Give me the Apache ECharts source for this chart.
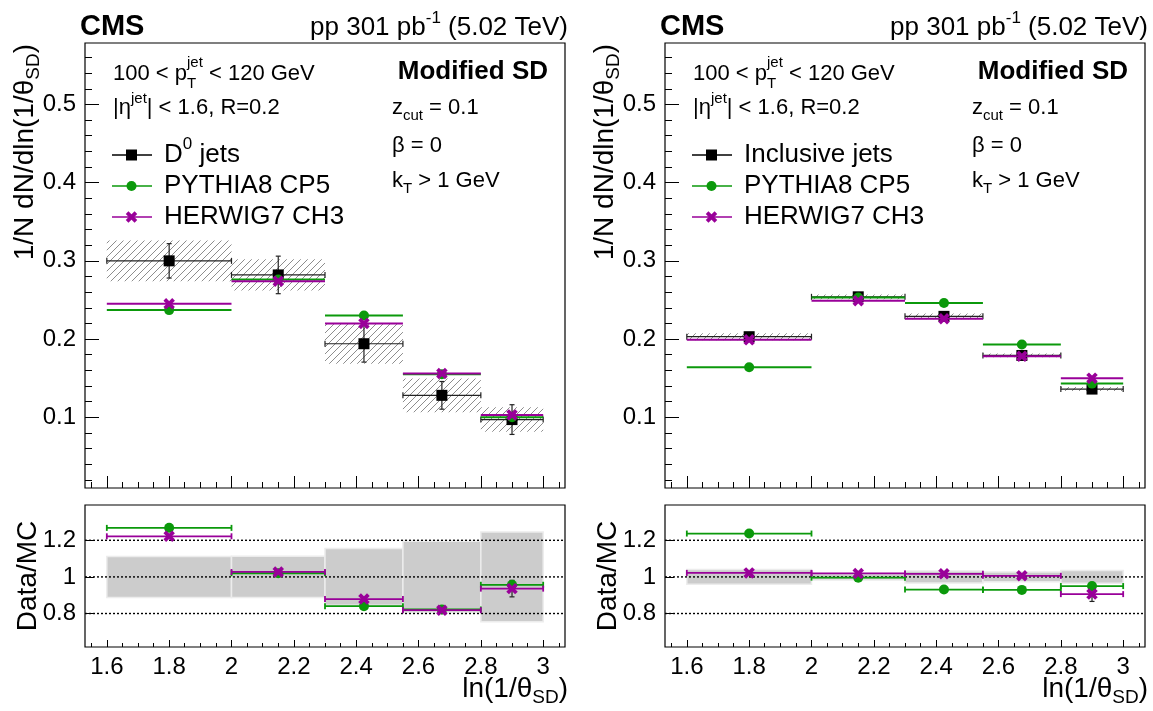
<!DOCTYPE html>
<html><head><meta charset="utf-8">
<script src="https://cdn.jsdelivr.net/npm/echarts@6/dist/echarts.min.js"></script>
<style>html,body{margin:0;padding:0;background:#fff}#c{width:1153px;height:711px}</style>
</head><body><div id="c"></div>
<script>
// ---------------- data ----------------
const binEdges   = [1.6, 2.0, 2.3, 2.55, 2.8, 3.0];
const binCenters = [1.8, 2.15, 2.425, 2.675, 2.9];
const xTicks      = [1.6, 1.8, 2.0, 2.2, 2.4, 2.6, 2.8, 3.0];
const xMinorTicks = [1.55,1.65,1.7,1.75,1.85,1.9,1.95,2.05,2.1,2.15,2.25,2.3,2.35,2.45,2.5,2.55,2.65,2.7,2.75,2.85,2.9,2.95,3.05];
const yTicksMain  = [0.1, 0.2, 0.3, 0.4, 0.5];
const yMinorMain  = [0.02,0.04,0.06,0.08,0.12,0.14,0.16,0.18,0.22,0.24,0.26,0.28,0.32,0.34,0.36,0.38,0.42,0.44,0.46,0.48,0.52,0.54,0.56];
const yTicksRatio = [0.8, 1.0, 1.2];

// Left panel: D0 jets
const d0Data        = [0.300, 0.282, 0.194, 0.128, 0.097];
const d0StatErr     = [0.022, 0.024, 0.0235, 0.0177, 0.019];
const d0SystErr     = [0.026, 0.020, 0.0255, 0.0215, 0.0157];
const d0Pythia      = [0.237, 0.276, 0.230, 0.155, 0.100];
const d0Herwig      = [0.245, 0.274, 0.220, 0.156, 0.103];
const d0RatioPythia = [1.268, 1.020, 0.840, 0.822, 0.957];
const d0RatioHerwig = [1.222, 1.027, 0.879, 0.818, 0.936];
const d0RatioBand   = [0.112, 0.113, 0.155, 0.195, 0.245];
const d0RatioErr    = [0.006, 0.006, 0.008, 0.010, 0.045];

// Right panel: inclusive jets
const inclData        = [0.203, 0.254, 0.229, 0.179, 0.136];
const inclStatErr     = [0.001, 0.001, 0.001, 0.001, 0.0015];
const inclSystErr     = [0.0045, 0.003, 0.0038, 0.0024, 0.0026];
const inclPythia      = [0.164, 0.253, 0.246, 0.193, 0.143];
const inclHerwig      = [0.199, 0.249, 0.226, 0.178, 0.150];
const inclRatioPythia = [1.237, 0.996, 0.931, 0.929, 0.950];
const inclRatioHerwig = [1.022, 1.019, 1.017, 1.006, 0.906];
const inclRatioBand   = [0.040, 0.017, 0.033, 0.027, 0.035];
const inclRatioErr    = [0.003, 0.003, 0.004, 0.005, 0.040];

// ---------------- style ----------------
const FONT = '"Liberation Sans", Arial, Helvetica, sans-serif';
const GREEN = '#0b990b', PURPLE = '#990099';
const xMin = 1.53, xMax = 3.07;
const yMainMin = 0.0095, yMainMax = 0.5786;
const yRatMin = 0.617, yRatMax = 1.393;

const mctx = document.createElement('canvas').getContext('2d');
function tw(t, s, b){ mctx.font = (b ? 'bold ' : '') + s + 'px ' + FONT; return mctx.measureText(t).width; }
function layout(pieces){
  let cx = 0; const items = [];
  for (const p of pieces){
    if (p.sup != null || p.sub != null){
      let w = 0;
      if (p.sup != null){ items.push({t:p.sup, x:cx, dy:p.supDy, s:p.s, b:false}); w = Math.max(w, tw(p.sup, p.s, false)); }
      if (p.sub != null){ items.push({t:p.sub, x:cx, dy:p.subDy, s:p.s, b:false}); w = Math.max(w, tw(p.sub, p.s, false)); }
      cx += w;
    } else {
      items.push({t:p.t, x:cx, dy:p.dy || 0, s:p.s, b:!!p.b}); cx += tw(p.t, p.s, !!p.b);
    }
  }
  return {items, width:cx};
}
function textGroup(x, y, pieces, align, rotation){
  const L = layout(pieces);
  const off = align === 'right' ? -L.width : (align === 'center' ? -L.width/2 : 0);
  return {type:'group', x, y, rotation: rotation || 0, silent:true, z:100,
    children: L.items.map(it => ({type:'text', x: off + it.x, y: it.dy,
      style:{text:it.t, font:(it.b ? 'bold ' : '') + it.s + 'px ' + FONT, fill:'#000',
             align:'left', verticalAlign:'middle', textAlign:'left', textVerticalAlign:'middle'}}))};
}

function makeHatch(){
  const s = 7, c = document.createElement('canvas'); c.width = s; c.height = s;
  const g = c.getContext('2d'); g.strokeStyle = '#707070'; g.lineWidth = 0.8;
  g.beginPath(); g.moveTo(0, s); g.lineTo(s, 0); g.stroke();
  g.beginPath(); g.moveTo(-1, 1); g.lineTo(1, -1); g.stroke();
  g.beginPath(); g.moveTo(s-1, s+1); g.lineTo(s+1, s-1); g.stroke();
  return {image:c, repeat:'repeat'};
}
const hatch = makeHatch();

function markerShape(kind, cx, cy, color){
  if (kind === 'square') return {type:'rect', shape:{x:cx-5.5, y:cy-5.5, width:11, height:11}, style:{fill:'#000'}};
  if (kind === 'circle') return {type:'circle', shape:{cx, cy, r:5}, style:{fill:color}};
  const a = 4.4;
  return {type:'group', children:[
    {type:'line', shape:{x1:cx-a, y1:cy-a, x2:cx+a, y2:cy+a}, style:{stroke:color, lineWidth:3.8}},
    {type:'line', shape:{x1:cx-a, y1:cy+a, x2:cx+a, y2:cy-a}, style:{stroke:color, lineWidth:3.8}}]};
}

// ---------------- render functions ----------------
function rSyst(params, api){
  const lo = api.value(0), hi = api.value(1), y = api.value(2), e = api.value(3);
  const a = api.coord([lo, y + e]), b = api.coord([hi, y - e]);
  return {type:'rect', shape:{x:a[0], y:a[1], width:b[0]-a[0], height:b[1]-a[1]}, style:{fill:hatch}};
}
function rData(params, api){
  const lo = api.value(0), hi = api.value(1), x = api.value(2), y = api.value(3), e = api.value(4);
  const pl = api.coord([lo, y]), ph = api.coord([hi, y]), pc = api.coord([x, y]);
  const pt = api.coord([x, y + e]), pb = api.coord([x, y - e]);
  const st = {stroke:'#222', lineWidth:1.2};
  return {type:'group', children:[
    {type:'line', shape:{x1:pl[0], y1:pl[1], x2:ph[0], y2:ph[1]}, style:st},
    {type:'line', shape:{x1:pl[0], y1:pl[1]-3, x2:pl[0], y2:pl[1]+3}, style:st},
    {type:'line', shape:{x1:ph[0], y1:ph[1]-3, x2:ph[0], y2:ph[1]+3}, style:st},
    {type:'line', shape:{x1:pt[0], y1:pt[1], x2:pb[0], y2:pb[1]}, style:st},
    {type:'line', shape:{x1:pt[0]-2.5, y1:pt[1], x2:pt[0]+2.5, y2:pt[1]}, style:st},
    {type:'line', shape:{x1:pb[0]-2.5, y1:pb[1], x2:pb[0]+2.5, y2:pb[1]}, style:st},
    markerShape('square', pc[0], pc[1])
  ]};
}
function rMC(color, kind){
  return function(params, api){
    const lo = api.value(0), hi = api.value(1), x = api.value(2), y = api.value(3);
    const pl = api.coord([lo, y]), ph = api.coord([hi, y]), pc = api.coord([x, y]);
    return {type:'group', children:[
      {type:'line', shape:{x1:pl[0], y1:pl[1], x2:ph[0], y2:ph[1]}, style:{stroke:color, lineWidth:2}},
      markerShape(kind, pc[0], pc[1], color)
    ]};
  };
}
function rRatioMC(color, kind){
  return function(params, api){
    const lo = api.value(0), hi = api.value(1), x = api.value(2), y = api.value(3);
    const pl = api.coord([lo, y]), ph = api.coord([hi, y]), pc = api.coord([x, y]);
    const st = {stroke:color, lineWidth:1.8};
    return {type:'group', children:[
      {type:'line', shape:{x1:pl[0], y1:pl[1], x2:ph[0], y2:ph[1]}, style:st},
      {type:'line', shape:{x1:pl[0], y1:pl[1]-3, x2:pl[0], y2:pl[1]+3}, style:st},
      {type:'line', shape:{x1:ph[0], y1:ph[1]-3, x2:ph[0], y2:ph[1]+3}, style:st},
      markerShape(kind, pc[0], pc[1], color)
    ]};
  };
}
function rRatioErr(params, api){
  const x = api.value(0), y = api.value(1), e = api.value(2);
  const pt = api.coord([x, y + e]), pb = api.coord([x, y - e]);
  const st = {stroke:'#222', lineWidth:1.2};
  return {type:'group', children:[
    {type:'line', shape:{x1:pt[0], y1:pt[1], x2:pb[0], y2:pb[1]}, style:st},
    {type:'line', shape:{x1:pt[0]-2.5, y1:pt[1], x2:pt[0]+2.5, y2:pt[1]}, style:st},
    {type:'line', shape:{x1:pb[0]-2.5, y1:pb[1], x2:pb[0]+2.5, y2:pb[1]}, style:st}]};
}
function rBand(params, api){
  const lo = api.value(0), hi = api.value(1), e = api.value(2);
  const a = api.coord([lo, 1 + e]), b = api.coord([hi, 1 - e]);
  return {type:'rect', shape:{x:a[0], y:a[1], width:b[0]-a[0], height:b[1]-a[1]},
          style:{fill:'#cccccc', stroke:'#ececec', lineWidth:1.5}};
}
function rRef(params, api){
  const y = api.value(0), cs = params.coordSys;
  const p = api.coord([xMin, y]);
  return {type:'line', shape:{x1:cs.x, y1:p[1], x2:cs.x + cs.width, y2:p[1]},
          style:{stroke:'#000', lineWidth:1.4, lineDash:[2, 2]}};
}

// ---------------- build ----------------
const panels = [
  {x0:85, data:d0Data, stat:d0StatErr, syst:d0SystErr, py:d0Pythia, hw:d0Herwig,
   rpy:d0RatioPythia, rhw:d0RatioHerwig, band:d0RatioBand, rerr:d0RatioErr},
  {x0:665, data:inclData, stat:inclStatErr, syst:inclSystErr, py:inclPythia, hw:inclHerwig,
   rpy:inclRatioPythia, rhw:inclRatioHerwig, band:inclRatioBand, rerr:inclRatioErr}
];
const W = 480, mainTop = 43, mainH = 445, ratTop = 505, ratH = 142;
const grid = [], xAxis = [], yAxis = [], series = [], graphic = [];
const fmtX = v => Math.abs(v - Math.round(v)) < 1e-9 ? String(Math.round(v)) : v.toFixed(1);
const fmtR = v => Math.abs(v - 1) < 1e-9 ? '1' : v.toFixed(1);
const lo = binEdges.slice(0, -1), hi = binEdges.slice(1);

panels.forEach((P, pi) => {
  const gMain = grid.length;
  grid.push({left:P.x0, top:mainTop, width:W, height:mainH, show:true, borderColor:'#000', borderWidth:1.2, backgroundColor:'#fff'});
  const gRat = grid.length;
  grid.push({left:P.x0, top:ratTop, width:W, height:ratH, show:true, borderColor:'#000', borderWidth:1.2, backgroundColor:'#fff'});

  [gMain, gRat].forEach(g => {
    const isR = g === gRat;
    xAxis.push({gridIndex:g, type:'value', min:xMin, max:xMax, position:'bottom',
      axisLine:{show:false}, splitLine:{show:false},
      axisTick:{show:true, inside:true, length:isR ? 7 : 12, customValues:xTicks, lineStyle:{color:'#000', width:1}},
      axisLabel:{show:isR, customValues:xTicks, formatter:fmtX, fontSize:24, fontFamily:FONT, color:'#000', margin:8}});
    xAxis.push({gridIndex:g, type:'value', min:xMin, max:xMax, position:'bottom',
      axisLine:{show:false}, splitLine:{show:false},
      axisTick:{show:true, inside:true, length:isR ? 4 : 6, customValues:xMinorTicks, lineStyle:{color:'#000', width:1}},
      axisLabel:{show:false}});
    if (!isR){
      yAxis.push({gridIndex:g, type:'value', min:yMainMin, max:yMainMax, position:'left',
        axisLine:{show:false}, splitLine:{show:false},
        axisTick:{show:true, inside:true, length:14, customValues:yTicksMain, lineStyle:{color:'#000', width:1}},
        axisLabel:{customValues:yTicksMain, formatter:v => v.toFixed(1), fontSize:24, fontFamily:FONT, color:'#000', margin:9}});
      yAxis.push({gridIndex:g, type:'value', min:yMainMin, max:yMainMax, position:'left',
        axisLine:{show:false}, splitLine:{show:false},
        axisTick:{show:true, inside:true, length:7, customValues:yMinorMain, lineStyle:{color:'#000', width:1}},
        axisLabel:{show:false}});
    } else {
      yAxis.push({gridIndex:g, type:'value', min:yRatMin, max:yRatMax, position:'left',
        axisLine:{show:false}, splitLine:{show:false},
        axisTick:{show:true, inside:true, length:9, customValues:yTicksRatio, lineStyle:{color:'#000', width:1}},
        axisLabel:{customValues:yTicksRatio, formatter:fmtR, fontSize:24, fontFamily:FONT, color:'#000', margin:9}});
      yAxis.push({gridIndex:g, type:'value', min:yRatMin, max:yRatMax, position:'left', show:false});
    }
  });
  const xiM = gMain * 2, yiM = gMain * 2, xiR = gRat * 2, yiR = gRat * 2;

  // main plot
  series.push({type:'custom', xAxisIndex:xiM, yAxisIndex:yiM, clip:true, silent:true, z:2, encode:{x:0, y:2},
    data:P.data.map((v, i) => [lo[i], hi[i], v, P.syst[i]]), renderItem:rSyst});
  series.push({type:'custom', xAxisIndex:xiM, yAxisIndex:yiM, clip:true, silent:true, z:3, encode:{x:2, y:3},
    data:P.data.map((v, i) => [lo[i], hi[i], binCenters[i], v, P.stat[i]]), renderItem:rData});
  series.push({type:'custom', xAxisIndex:xiM, yAxisIndex:yiM, clip:true, silent:true, z:4, encode:{x:2, y:3},
    data:P.py.map((v, i) => [lo[i], hi[i], binCenters[i], v]), renderItem:rMC(GREEN, 'circle')});
  series.push({type:'custom', xAxisIndex:xiM, yAxisIndex:yiM, clip:true, silent:true, z:5, encode:{x:2, y:3},
    data:P.hw.map((v, i) => [lo[i], hi[i], binCenters[i], v]), renderItem:rMC(PURPLE, 'x')});

  // ratio plot
  series.push({type:'custom', xAxisIndex:xiR, yAxisIndex:yiR, clip:true, silent:true, z:2, encode:{x:0, y:2},
    data:P.band.map((v, i) => [lo[i], hi[i], v]), renderItem:rBand});
  series.push({type:'custom', xAxisIndex:xiR, yAxisIndex:yiR, clip:true, silent:true, z:3, encode:{y:0},
    data:yTicksRatio.map(v => [v]), renderItem:rRef});
  series.push({type:'custom', xAxisIndex:xiR, yAxisIndex:yiR, clip:true, silent:true, z:4, encode:{x:0, y:1},
    data:P.rhw.map((v, i) => [binCenters[i], v, P.rerr[i]]), renderItem:rRatioErr});
  series.push({type:'custom', xAxisIndex:xiR, yAxisIndex:yiR, clip:true, silent:true, z:5, encode:{x:2, y:3},
    data:P.rpy.map((v, i) => [lo[i], hi[i], binCenters[i], v]), renderItem:rRatioMC(GREEN, 'circle')});
  series.push({type:'custom', xAxisIndex:xiR, yAxisIndex:yiR, clip:true, silent:true, z:6, encode:{x:2, y:3},
    data:P.rhw.map((v, i) => [lo[i], hi[i], binCenters[i], v]), renderItem:rRatioMC(PURPLE, 'x')});

  // texts
  const ox = P.x0 - 85;
  graphic.push(textGroup(80 + ox, 27, [{t:'CMS', s:29, b:true}], 'left'));
  graphic.push(textGroup(568 + ox, 28, [{t:'pp 301 pb', s:26}, {sup:'-1', s:17, supDy:-10}, {t:' (5.02 TeV)', s:26}], 'right'));
  graphic.push(textGroup(113 + ox, 74, [{t:'100 < p', s:22}, {sup:'jet', sub:'T', s:15, supDy:-11, subDy:10}, {t:' < 120 GeV', s:22}], 'left'));
  graphic.push(textGroup(113 + ox, 108, [{t:'|η', s:22}, {sup:'jet', s:15, supDy:-9}, {t:'| < 1.6, R=0.2', s:22}], 'left'));
  graphic.push(textGroup(548 + ox, 72, [{t:'Modified SD', s:26, b:true}], 'right'));
  graphic.push(textGroup(392 + ox, 108, [{t:'z', s:22}, {sub:'cut', s:15, subDy:8}, {t:' = 0.1', s:22}], 'left'));
  graphic.push(textGroup(392 + ox, 146, [{t:'β = 0', s:22}], 'left'));
  graphic.push(textGroup(392 + ox, 181, [{t:'k', s:22}, {sub:'T', s:15, subDy:8}, {t:' > 1 GeV', s:22}], 'left'));

  // legend
  const legend = [
    {y:155, color:'#000', kind:'square', pieces: pi === 0 ? [{t:'D', s:26}, {sup:'0', s:17, supDy:-11}, {t:' jets', s:26}] : [{t:'Inclusive jets', s:26}]},
    {y:186, color:GREEN, kind:'circle', pieces:[{t:'PYTHIA8 CP5', s:26}]},
    {y:217, color:PURPLE, kind:'x', pieces:[{t:'HERWIG7 CH3', s:26}]}
  ];
  legend.forEach(L => {
    graphic.push({type:'line', shape:{x1:112 + ox, y1:L.y, x2:152 + ox, y2:L.y}, style:{stroke:L.color, lineWidth:1.6}, z:100, silent:true});
    const m = markerShape(L.kind, 131.5 + ox, L.y, L.color); m.z = 101; m.silent = true;
    graphic.push(m);
    graphic.push(textGroup(164 + ox, L.y, L.pieces, 'left'));
  });

  // axis titles
  graphic.push(textGroup(25 + ox, 44, [{t:'1/N dN/dln(1/θ', s:28}, {sub:'SD', s:19, subDy:9}, {t:')', s:28}], 'right', Math.PI / 2));
  graphic.push(textGroup(28 + ox, 576, [{t:'Data/MC', s:28}], 'center', Math.PI / 2));
  graphic.push(textGroup(568 + ox, 689, [{t:'ln(1/θ', s:28}, {sub:'SD', s:19, subDy:9}, {t:')', s:28}], 'right'));
});

const chart = echarts.init(document.getElementById('c'), null, {renderer:'canvas', width:1153, height:711});
chart.setOption({animation:false, backgroundColor:'#fff', grid, xAxis, yAxis, series, graphic});
</script>
</body></html>
